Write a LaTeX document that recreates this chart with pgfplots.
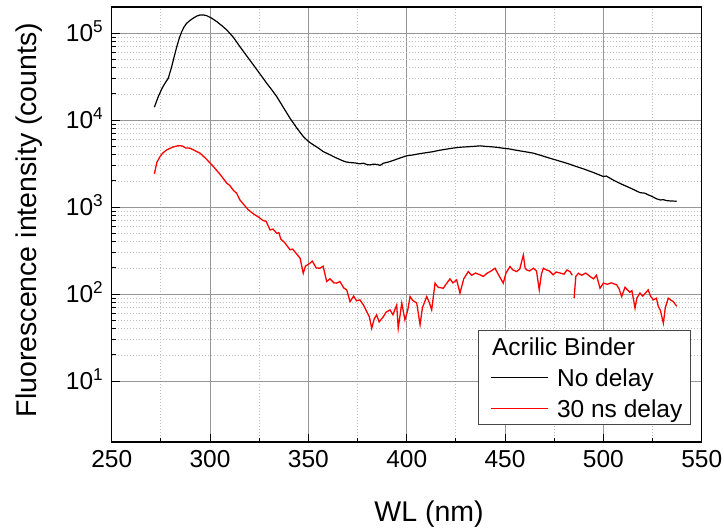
\documentclass[border=0pt]{standalone}
\usepackage{fontspec}
\setmainfont{Liberation Sans}
\usepackage{pgfplots}
\pgfplotsset{compat=1.18}
\definecolor{majgrid}{RGB}{150,150,150}
\definecolor{mingrid}{RGB}{190,190,190}
\definecolor{legframe}{RGB}{70,70,70}
\begin{document}
\begin{tikzpicture}
\begin{axis}[
  scale only axis,
  width=590bp, height=435bp,
  xmin=250, xmax=550,
  ymode=log, ymin=2, ymax=2e5,
  xtick={250,300,350,400,450,500,550},
  minor x tick num=1,
  ytick={10,100,1000,10000,100000},
  yticklabels={10\textsuperscript{1},10\textsuperscript{2},10\textsuperscript{3},10\textsuperscript{4},10\textsuperscript{5}},
  /pgf/number format/assume math mode=true,
  /pgf/number format/1000 sep={},
  tick pos=left,
  tick align=inside,
  major tick length=8.5bp,
  minor tick length=4.5bp,
  every tick/.style={black, line width=1bp},
  axis line style={black, line width=1.5bp},
  grid=both,
  major grid style={majgrid, line width=0.9bp},
  minor grid style={mingrid, line width=0.8bp, dash pattern=on 1bp off 2bp},
  ticklabel style={font=\fontsize{24.5bp}{29bp}\selectfont},
  xticklabel style={yshift=-5bp},
  yticklabel style={anchor=base east, yshift=-8.75bp, xshift=-5bp},
  xlabel={WL (nm)},
  ylabel={Fluorescence intensity (counts)},
  every axis x label/.style={at={(axis description cs:0.5378,-0.1832)}, anchor=base, font=\fontsize{28.5bp}{34bp}\selectfont},
  every axis y label/.style={at={(axis description cs:-0.1283,0.5103)}, rotate=90, anchor=base, font=\fontsize{28.5bp}{34bp}\selectfont},
  legend cell align=left,
  legend image code/.code={\path (0bp,0bp) (69bp,0bp); \draw[#1] (8bp,0bp) -- (65bp,0bp);},
  legend style={at={(axis description cs:0.6214,0.2575)}, anchor=north west,
    draw=legframe, line width=0.9bp, fill=white,
    inner xsep=4bp, inner ysep=2.75bp, row sep=4.5bp,
    font=\fontsize{24.5bp}{29bp}\selectfont,
    nodes={inner xsep=4bp, inner ysep=0bp, text height=22bp, text depth=4.5bp}},
]
\addlegendimage{empty legend}
\addlegendentry{\hspace*{-65bp}Acrilic Binder}

\addplot[black, line width=1.2bp] coordinates {
(271.7,14100) (273.7,18700) (275.5,23000) (277.1,26600) (278.8,30400) (280.5,41300)
(281.8,54000) (283.1,70000) (284.4,88000) (285.6,104000) (286.8,118000) (288.1,130000)
(289.8,140000) (291.5,149000) (293.2,157000) (294.9,162000) (296.6,162000) (298.3,159000)
(300.8,149000) (303.4,136000) (306,122000) (308.5,109000) (311.8,90000) (315.2,70000)
(318.6,55000) (322,43300) (325.4,34000) (328.8,26600) (331.3,22500) (333.9,18700)
(337.3,14000) (340.7,10500) (344,8200) (347.4,6500) (350,5700) (352,5300) (355,4800)
(357.6,4350) (361,4000) (364,3700) (367,3450) (369,3320) (371.2,3260) (374,3220) (376,3150)
(378,3200) (380,3080) (381.3,3060) (383,3120) (385,3100) (386.5,3020) (388.1,3200)
(391,3320) (394,3500) (397,3700) (400,3900) (403,3980) (406,4100) (409,4200) (413.5,4350)
(416,4480) (419,4600) (422,4720) (425.4,4840) (428,4900) (431,4950) (434,5000) (437.3,5070)
(440,5000) (443,4950) (446,4870) (449.1,4760) (452,4680) (456,4500) (460,4350) (464.4,4180)
(468,3950) (472,3700) (476,3480) (481.4,3200) (485,3000) (490,2750) (495,2500)
(500,2250) (501.5,2280) (505,2050) (509,1850) (514,1650) (518.6,1470) (521,1450)
(523,1380) (525,1320) (527,1250) (529,1210) (530.5,1220) (532.2,1190) (534,1180) (537.3,1170)
};
\addlegendentry{No delay}

\addplot[red, line width=1.3bp] coordinates {
(271.7,2420) (273,3300) (274.6,3820) (276,4200) (278,4560) (281,4900) (283.9,5100)
(286,5050) (287.5,4800) (289.8,4770) (292,4500) (294.9,4180) (298,3600) (301.7,2930)
(305,2400) (308.5,1890) (310,1780) (312,1550) (313.5,1450) (315.2,1210) (317.5,1050) (319.5,931) (322,840)
(323.5,800) (325,760) (327,700) (328.5,690) (330.5,548) (332,560) (334,500) (335,510) (336,430) (338,390) (340.7,324)
(342,330) (343.5,300) (345.8,259) (347.4,174) (348.5,210) (350.8,227) (352,240) (354,200)
(355.9,199) (357.5,210) (359.3,140) (361,150) (363,135) (364.4,134) (366,140)
(368,118) (369.5,112) (371.2,82) (373,95) (374.5,84) (376.2,86) (378,75) (379.7,63)
(381,55) (382.2,40.6) (383.5,52) (384.7,57.8) (386,48) (388.1,55) (389.5,62)
(391.5,66) (393,58) (394.9,75) (395.7,40.6) (397.5,79) (399.1,50.7) (400.5,65)
(401.7,94) (403,85) (405.1,79) (406.8,44.5) (408,70) (410.2,94) (411.5,80)
(412.7,66) (414.4,134) (416,120) (418.6,117) (420,130) (422,150) (423.5,135)
(425.4,146) (427.1,103) (429,150) (431.3,182) (433,165) (435,175) (437,168)
(438.9,160) (441,175) (443,185) (444.9,199) (446.5,170) (449.1,134) (450.5,175)
(452.5,208) (454,190) (455.9,182) (457.5,195) (459.3,282) (460.2,200) (461,190)
(462.5,185) (464.4,199) (466,185) (467.4,112) (468.5,170) (469.5,199) (471,190)
(472.5,185) (474.5,167) (476,180) (478,175) (480,170) (481.5,190) (483,182) (484.2,165)
};
\addlegendentry{30 ns delay}

\addplot[red, line width=1.3bp, forget plot] coordinates {
(485.1,90) (486,160) (487.3,174) (489,165) (491,175) (493.2,160) (495,150)
(496.5,165) (498.3,117) (500,134) (502,130) (504,135) (506.8,128) (508,115)
(509.3,94) (511,120) (513.5,105) (514.5,110) (516.1,69) (517,90) (518.6,103)
(520,95) (522.8,112) (524,95) (525.4,86) (527,90) (527.9,72.5) (529,65)
(530.5,46.5) (531.5,70) (533,90) (534.5,85) (535.6,82) (537.3,72.5)
};
\end{axis}
\pgfresetboundingbox
\path ([shift={(-111.7bp,-86bp)}]current axis.south west) rectangle ([shift={(22.3bp,7bp)}]current axis.north east);
\end{tikzpicture}
\end{document}
